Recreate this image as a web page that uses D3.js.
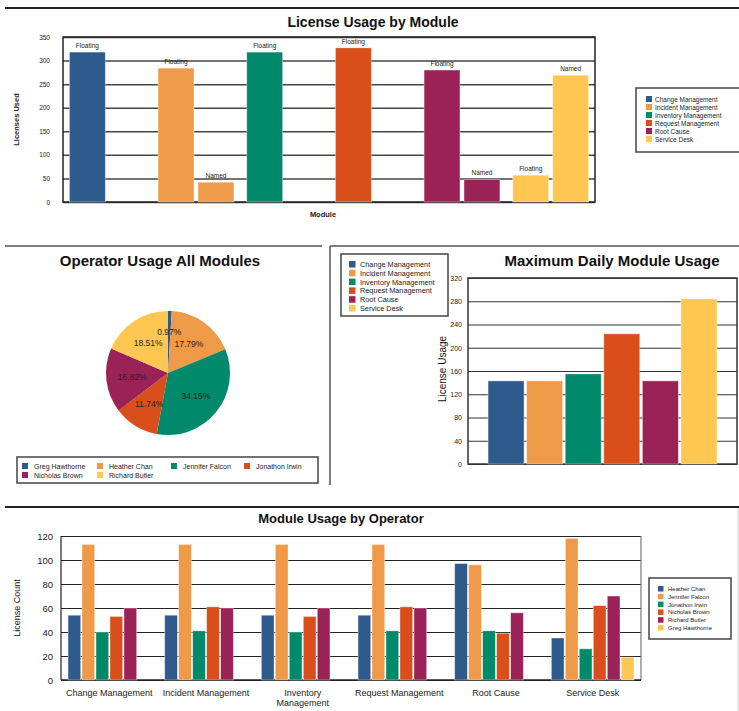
<!DOCTYPE html>
<html>
<head>
<meta charset="utf-8">
<script src="https://cdn.jsdelivr.net/npm/d3@7"></script>
<style>
  html, body { margin: 0; padding: 0; background: #ffffff; }
  svg { display: block; font-family: "Liberation Sans", Arial, sans-serif; }
</style>
</head>
<body>
<svg id="chart" width="739" height="711"></svg>
<script>
// ---------- DATA ----------
const modules = ["Change Management", "Incident Management", "Inventory Management", "Request Management", "Root Cause", "Service Desk"];
const moduleColors = ["#2f5a8c", "#ee9a48", "#00896a", "#d94e1a", "#9b2257", "#fec751"];

// License Usage by Module
const licenseTypes = ["Floating", "Named"];
const floatingUsed = [318, 284, 318, 327, 280, 57];
const namedUsed = [null, 42, null, null, 48, 269];
const licenseTicks = [0, 50, 100, 150, 200, 250, 300, 350];

// Operator Usage All Modules (percent)
const operators = ["Greg Hawthorne", "Heather Chan", "Jennifer Falcon", "Jonathon Irwin", "Nicholas Brown", "Richard Butler"];
const operatorShare = [0.97, 17.79, 34.15, 11.74, 16.82, 18.51];
const operatorColors = ["#2f5a8c", "#ee9a48", "#00896a", "#d94e1a", "#9b2257", "#fec751"];

// Maximum Daily Module Usage
const maxDailyUsage = [143, 143, 155, 224, 143, 284];
const maxDailyTicks = [0, 40, 80, 120, 160, 200, 240, 280, 320];

// Module Usage by Operator
const usageOperators = ["Heather Chan", "Jennifer Falcon", "Jonathon Irwin", "Nicholas Brown", "Richard Butler", "Greg Hawthorne"];
const usageOperatorColors = ["#2f5a8c", "#ee9a48", "#00896a", "#d94e1a", "#9b2257", "#fec751"];
const heatherChan    = [54, 54, 54, 54, 97, 35];
const jenniferFalcon = [113, 113, 113, 113, 96, 118];
const jonathonIrwin  = [40, 41, 40, 41, 41, 26];
const nicholasBrown  = [53, 61, 53, 61, 39, 62];
const richardButler  = [60, 60, 60, 60, 56, 70];
const gregHawthorne  = [0, 0, 0, 0, 0, 19];
const usageTicks = [0, 20, 40, 60, 80, 100, 120];

// ---------- DRAW ----------
const svg = d3.select("#chart");

// panel lines
svg.append("line").attr("x1", 5).attr("x2", 739).attr("y1", 8).attr("y2", 8).attr("stroke", "#222").attr("stroke-width", 2);
svg.append("line").attr("x1", 5).attr("x2", 322).attr("y1", 246).attr("y2", 246).attr("stroke", "#555").attr("stroke-width", 1.5);
svg.append("line").attr("x1", 330).attr("x2", 739).attr("y1", 246).attr("y2", 246).attr("stroke", "#555").attr("stroke-width", 1.5);
svg.append("line").attr("x1", 330).attr("x2", 330).attr("y1", 246).attr("y2", 485).attr("stroke", "#555").attr("stroke-width", 1.5);
svg.append("line").attr("x1", 5).attr("x2", 739).attr("y1", 507).attr("y2", 507).attr("stroke", "#222").attr("stroke-width", 2);
svg.append("line").attr("x1", 738).attr("x2", 738).attr("y1", 508).attr("y2", 711).attr("stroke", "#ccc").attr("stroke-width", 1);

function legendBox(g, x, y, w, h) {
  g.append("rect").attr("x", x).attr("y", y).attr("width", w).attr("height", h)
    .attr("fill", "#fff").attr("stroke", "#444").attr("stroke-width", 1.5);
}

// ===== Chart 1: License Usage by Module =====
(function () {
  const L = 63, R = 595, T = 37, B = 202;
  const g = svg.append("g");
  g.append("text").attr("x", 373).attr("y", 27).attr("text-anchor", "middle")
    .attr("font-size", 14).attr("font-weight", "bold").attr("fill", "#111").text("License Usage by Module");

  const y = d3.scaleLinear().domain([0, 350]).range([B, T]);
  const x0 = d3.scaleBand().domain(modules).range([L, R]).paddingInner(0).paddingOuter(0);
  const x1 = d3.scaleBand().domain(licenseTypes).range([0, x0.bandwidth()]).paddingInner(0.1).paddingOuter(0.16);

  const yAxis = d3.axisLeft(y).tickValues(licenseTicks).tickSize(-(R - L)).tickPadding(13);
  const ya = g.append("g").attr("transform", `translate(${L},0)`).call(yAxis);
  ya.select(".domain").remove();
  ya.selectAll(".tick line").attr("stroke", "#444").attr("stroke-width", 1.5);
  ya.selectAll(".tick text").attr("font-size", 6.5).attr("fill", "#222").attr("font-family", "Liberation Sans, Arial, sans-serif");

  g.append("rect").attr("x", L).attr("y", T).attr("width", R - L).attr("height", B - T)
    .attr("fill", "none").attr("stroke", "#222").attr("stroke-width", 1.5);

  const rows = [];
  modules.forEach((m, i) => {
    if (floatingUsed[i] != null) rows.push({ m, i, type: "Floating", v: floatingUsed[i] });
    if (namedUsed[i] != null) rows.push({ m, i, type: "Named", v: namedUsed[i] });
  });
  g.selectAll("rect.bar").data(rows).enter().append("rect").attr("class", "bar")
    .attr("x", d => x0(d.m) + x1(d.type)).attr("width", x1.bandwidth())
    .attr("y", d => y(d.v)).attr("height", d => B - y(d.v))
    .attr("fill", d => moduleColors[d.i]).attr("stroke", "rgba(255,255,255,0.5)").attr("stroke-width", 0.8);
  g.selectAll("text.blab").data(rows).enter().append("text").attr("class", "blab")
    .attr("x", d => x0(d.m) + x1(d.type) + x1.bandwidth() / 2).attr("y", d => y(d.v) - 4)
    .attr("text-anchor", "middle").attr("font-size", 6.5).attr("fill", "#222").text(d => d.type);

  g.append("text").attr("transform", `translate(19,${(T + B) / 2}) rotate(-90)`).attr("text-anchor", "middle")
    .attr("font-size", 7.5).attr("font-weight", "bold").attr("fill", "#222").text("Licenses Used");
  g.append("text").attr("x", 323).attr("y", 217).attr("text-anchor", "middle")
    .attr("font-size", 7.5).attr("font-weight", "bold").attr("fill", "#222").text("Module");

  legendBox(g, 636, 88, 104, 64);
  modules.forEach((m, i) => {
    g.append("rect").attr("x", 646).attr("y", 96 + i * 8).attr("width", 6).attr("height", 6).attr("fill", moduleColors[i]);
    g.append("text").attr("x", 655).attr("y", 101.5 + i * 8).attr("font-size", 6.5).attr("fill", "#222").text(m);
  });
})();

// ===== Chart 2: Operator Usage All Modules =====
(function () {
  const g = svg.append("g");
  g.append("text").attr("x", 160).attr("y", 266).attr("text-anchor", "middle")
    .attr("font-size", 15).attr("font-weight", "bold").attr("fill", "#111").text("Operator Usage All Modules");
  const cx = 168, cy = 373, r = 62;
  const data = operators.map((o, i) => ({ o, v: operatorShare[i], c: operatorColors[i] }));
  const pie = d3.pie().value(d => d.v).sort(null);
  const arc = d3.arc().innerRadius(0).outerRadius(r);
  const labelArc = d3.arc().innerRadius(36).outerRadius(36);
  const smallLabelArc = d3.arc().innerRadius(41).outerRadius(41);
  const pg = g.append("g").attr("transform", `translate(${cx},${cy})`);
  const arcs = pie(data);
  pg.selectAll("path").data(arcs).enter().append("path").attr("d", arc).attr("fill", d => d.data.c);
  pg.selectAll("text").data(arcs).enter().append("text")
    .attr("transform", d => {
      const c = (d.endAngle - d.startAngle < 0.1) ? smallLabelArc.centroid(d) : labelArc.centroid(d);
      return `translate(${c})`;
    }).attr("dy", "0.35em")
    .attr("text-anchor", "middle").attr("font-size", 8.5).attr("fill", "#222")
    .text(d => d.data.v.toFixed(2) + "%");

  legendBox(g, 17, 457, 301, 26);
  const colX = [22, 97, 171, 244];
  operators.forEach((o, i) => {
    const cxl = colX[i % 4], row = Math.floor(i / 4);
    g.append("rect").attr("x", cxl).attr("y", 463 + row * 9).attr("width", 6).attr("height", 6).attr("fill", operatorColors[i]);
    g.append("text").attr("x", cxl + 12).attr("y", 468.5 + row * 9).attr("font-size", 7).attr("fill", "#222").text(o);
  });
})();

// ===== Chart 3: Maximum Daily Module Usage =====
(function () {
  const L = 468, R = 737, T = 278, B = 464;
  const g = svg.append("g");
  g.append("text").attr("x", 612).attr("y", 266).attr("text-anchor", "middle")
    .attr("font-size", 15).attr("font-weight", "bold").attr("fill", "#111").text("Maximum Daily Module Usage");
  const y = d3.scaleLinear().domain([0, 320]).range([B, T]);
  const x = d3.scaleBand().domain(modules).range([L, R]).paddingInner(0.067).paddingOuter(0.52);
  const ya = g.append("g").attr("transform", `translate(${L},0)`)
    .call(d3.axisLeft(y).tickValues(maxDailyTicks).tickSize(-(R - L)).tickPadding(6));
  ya.select(".domain").remove();
  ya.selectAll(".tick line").attr("stroke", "#333").attr("stroke-width", 1.2);
  ya.selectAll(".tick text").attr("font-size", 7).attr("fill", "#222").attr("font-family", "Liberation Sans, Arial, sans-serif");
  g.append("rect").attr("x", L).attr("y", T).attr("width", R - L).attr("height", B - T)
    .attr("fill", "none").attr("stroke", "#333").attr("stroke-width", 1.5);
  g.selectAll("rect.bar").data(modules).enter().append("rect").attr("class", "bar")
    .attr("x", d => x(d)).attr("width", x.bandwidth())
    .attr("y", (d, i) => y(maxDailyUsage[i])).attr("height", (d, i) => B - y(maxDailyUsage[i]))
    .attr("fill", (d, i) => moduleColors[i]).attr("stroke", "rgba(255,255,255,0.5)").attr("stroke-width", 0.8);
  g.append("text").attr("transform", `translate(446,${(T + B) / 2 - 2}) rotate(-90)`).attr("text-anchor", "middle")
    .attr("font-size", 10).attr("fill", "#111").text("License Usage");

  legendBox(g, 341, 254, 107, 62);
  modules.forEach((m, i) => {
    g.append("rect").attr("x", 349).attr("y", 261 + i * 8.8).attr("width", 6.5).attr("height", 6.5).attr("fill", moduleColors[i]);
    g.append("text").attr("x", 360).attr("y", 267 + i * 8.8).attr("font-size", 7.3).attr("fill", "#222").text(m);
  });
})();

// ===== Chart 4: Module Usage by Operator =====
(function () {
  const L = 61, R = 641, T = 536, B = 680;
  const g = svg.append("g");
  g.append("text").attr("x", 341).attr("y", 523).attr("text-anchor", "middle")
    .attr("font-size", 13).attr("font-weight", "bold").attr("fill", "#111").text("Module Usage by Operator");
  const series = [heatherChan, jenniferFalcon, jonathonIrwin, nicholasBrown, richardButler, gregHawthorne];
  const y = d3.scaleLinear().domain([0, 120]).range([B, T]);
  const x0 = d3.scaleBand().domain(modules).range([L, R]);
  const x1 = d3.scaleBand().domain(usageOperators).range([0, x0.bandwidth()]).paddingInner(0.09).paddingOuter(0.5);
  const ya = g.append("g").attr("transform", `translate(${L},0)`)
    .call(d3.axisLeft(y).tickValues(usageTicks).tickSize(-(R - L)).tickPadding(8));
  ya.select(".domain").remove();
  ya.selectAll(".tick line").attr("stroke", "#222").attr("stroke-width", 1);
  ya.selectAll(".tick text").attr("font-size", 9.5).attr("fill", "#222").attr("font-family", "Liberation Sans, Arial, sans-serif");
  g.append("line").attr("x1", L).attr("x2", L).attr("y1", T).attr("y2", B).attr("stroke", "#222").attr("stroke-width", 1.2);
  g.append("line").attr("x1", R).attr("x2", R).attr("y1", T).attr("y2", B).attr("stroke", "#777").attr("stroke-width", 1.2);
  g.append("line").attr("x1", L).attr("x2", R).attr("y1", B).attr("y2", B).attr("stroke", "#222").attr("stroke-width", 1.5);

  const rows = [];
  modules.forEach((m, mi) => {
    usageOperators.forEach((o, si) => {
      const v = series[si][mi];
      if (v > 0) rows.push({ m, o, si, v });
    });
  });
  g.selectAll("rect.bar").data(rows).enter().append("rect").attr("class", "bar")
    .attr("x", d => x0(d.m) + x1(d.o)).attr("width", x1.bandwidth())
    .attr("y", d => y(d.v)).attr("height", d => B - y(d.v))
    .attr("fill", d => usageOperatorColors[d.si]).attr("stroke", "rgba(255,255,255,0.5)").attr("stroke-width", 0.8);

  // category labels
  modules.forEach(m => {
    const cxm = x0(m) + x0.bandwidth() / 2;
    const lines = m === "Inventory Management" ? ["Inventory", "Management"] : [m];
    lines.forEach((ln, k) => {
      g.append("text").attr("x", cxm).attr("y", 696 + k * 10).attr("text-anchor", "middle")
        .attr("font-size", 9).attr("fill", "#222").text(ln);
    });
  });
  g.append("text").attr("transform", `translate(20,${(T + B) / 2}) rotate(-90)`).attr("text-anchor", "middle")
    .attr("font-size", 9).attr("fill", "#111").text("License Count");

  legendBox(g, 649, 578, 82, 61);
  usageOperators.forEach((o, i) => {
    g.append("rect").attr("x", 658).attr("y", 586 + i * 7.8).attr("width", 5.5).attr("height", 5.5).attr("fill", usageOperatorColors[i]);
    g.append("text").attr("x", 668).attr("y", 591 + i * 7.8).attr("font-size", 6).attr("fill", "#222").text(o);
  });
})();
</script>
